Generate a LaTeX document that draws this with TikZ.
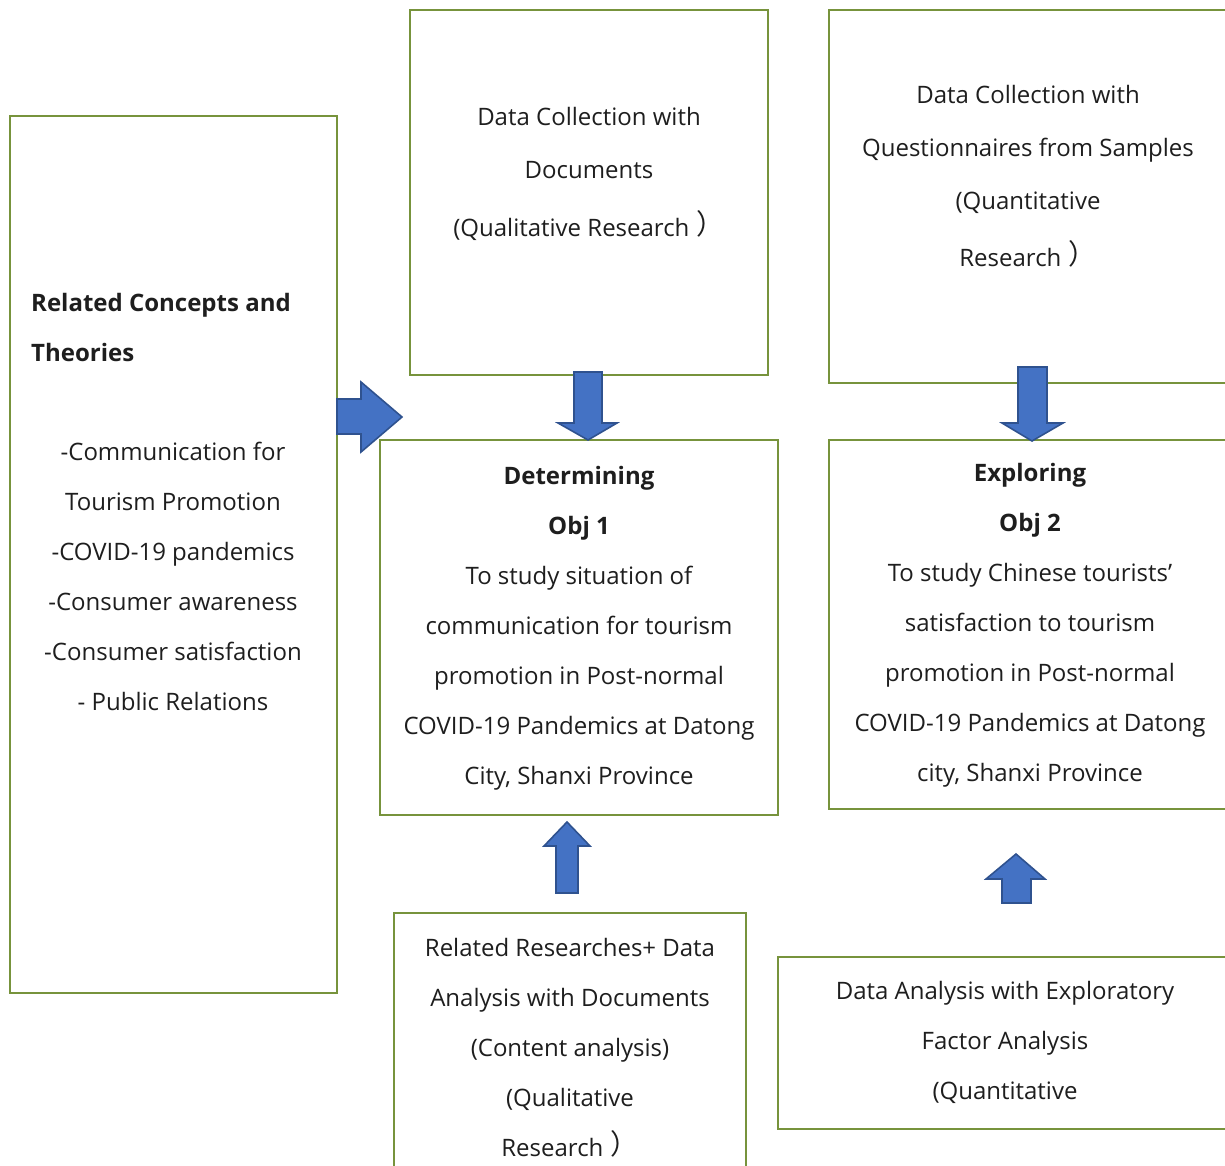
\documentclass[tikz,border=0pt]{standalone}
\usepackage{fontspec}
\setmainfont{Open Sans}
\newfontfamily\cjk{Noto Sans CJK SC}
\newcommand{\fwparen}{\hspace{0.3em}\raisebox{0.1em}{\cjk\fontsize{28}{28}\selectfont ）}}
\definecolor{boxgreen}{HTML}{77933C}
\definecolor{arrowfill}{HTML}{4472C4}
\definecolor{arrowedge}{HTML}{2F528F}
\definecolor{ink}{HTML}{1E1E1E}
\tikzset{
  framebox/.style={draw=boxgreen, line width=1.4pt, fill=white, inner sep=0pt},
  blocktext/.style={align=center, text=ink, font=\fontsize{24}{50}\selectfont, inner sep=0pt},
  headtext/.style={align=left, text=ink, font=\fontsize{24}{50}\selectfont\bfseries, inner sep=0pt},
  blockarrow/.style={fill=arrowfill, draw=arrowedge, line width=1.6pt, line join=miter}
}
\begin{document}
\begin{tikzpicture}[x=1pt, y=-1pt]
\useasboundingbox (0,0) rectangle (1225,1165);
\clip (0,0) rectangle (1225,1165);

% frames
\draw[framebox] (10,116) rectangle (337,993);
\draw[framebox] (410,10) rectangle (768,375);
\draw[framebox] (829,10) rectangle (1260,383);
\draw[framebox] (380,440) rectangle (778,815);
\draw[framebox] (829,440) rectangle (1260,809);
\draw[framebox] (394,913) rectangle (746,1200);
\draw[framebox] (778,957) rectangle (1260,1129);

% left column
\node[headtext, anchor=base west] (theoryhead) at (31,361) {Related Concepts and\\Theories};
\node[blocktext] (theorylist) at (173,576) {-Communication for\\Tourism Promotion\\-COVID-19 pandemics\\-Consumer awareness\\-Consumer satisfaction\\- Public Relations};

% top row
\node[blocktext] (docs) at (589,174) {Data Collection with\\[3pt]Documents\\[8pt](Qualitative Research\fwparen};
\node[blocktext] (quest) at (1028,176) {Data Collection with\\[3pt]Questionnaires from Samples\\[3pt](Quantitative\\[7pt]Research\fwparen};

% objectives
\node[blocktext] (obj1) at (579,628) {\textbf{Determining}\\\textbf{Obj 1}\\To study situation of\\communication for tourism\\promotion in Post-normal\\COVID-19 Pandemics at Datong\\City, Shanxi Province};
\node[blocktext] (obj2) at (1030,625) {\textbf{Exploring}\\\textbf{Obj 2}\\To study Chinese tourists’\\satisfaction to tourism\\promotion in Post-normal\\COVID-19 Pandemics at Datong\\city, Shanxi Province};

% bottom row
\node[blocktext] (content) at (570,1048) {Related Researches+ Data\\Analysis with Documents\\(Content analysis)\\(Qualitative\\Research\fwparen};
\node[blocktext] (efa) at (1005,1042) {Data Analysis with Exploratory\\Factor Analysis\\(Quantitative};

% block arrows
\draw[blockarrow] (337,399) -- (361,399) -- (361,382) -- (402,417) -- (361,452) -- (361,434) -- (337,434) -- cycle;
\draw[blockarrow] (574,372) -- (602,372) -- (602,423) -- (617,423) -- (588,440) -- (558,423) -- (574,423) -- cycle;
\draw[blockarrow] (1018,367) -- (1047,367) -- (1047,423) -- (1063,423) -- (1032,441) -- (1002,423) -- (1018,423) -- cycle;
\draw[blockarrow] (556,893) -- (578,893) -- (578,846) -- (590,846) -- (567,822) -- (544,846) -- (556,846) -- cycle;
\draw[blockarrow] (1002,903) -- (1031,903) -- (1031,879) -- (1045,879) -- (1016,854) -- (986,879) -- (1002,879) -- cycle;
\end{tikzpicture}
\end{document}
